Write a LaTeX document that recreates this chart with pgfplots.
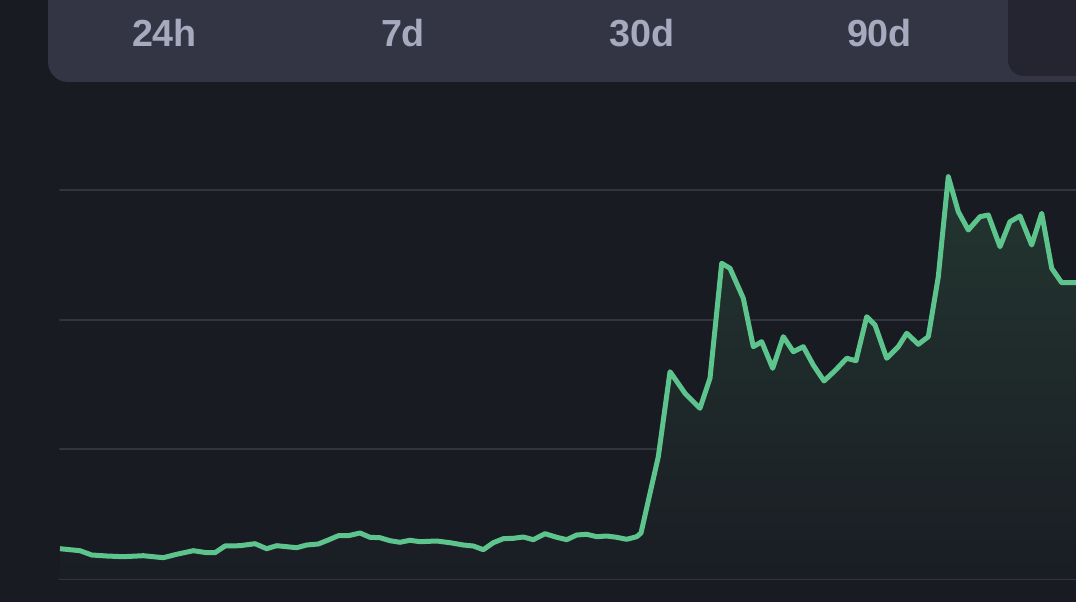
\documentclass[border=0pt]{standalone}
\usepackage{pgfplots}
\pgfplotsset{compat=1.18}
\usepackage{fontspec}
\setmainfont{Liberation Sans}
\definecolor{bg}{RGB}{25,27,35}
\definecolor{tabbar}{RGB}{51,52,68}
\definecolor{tabsel}{RGB}{36,37,48}
\definecolor{tabtxt}{RGB}{167,169,190}
\definecolor{gridc}{RGB}{50,52,64}
\definecolor{linec}{RGB}{93,196,142}
\definecolor{filltop}{RGB}{35,54,48}
\definecolor{fillbot}{RGB}{26,29,36}
\begin{document}
\begin{tikzpicture}[x=1pt,y=1pt]
\useasboundingbox (0,0) rectangle (1076,602);
\clip (0,0) rectangle (1076,602);
\fill[bg] (0,0) rectangle (1076,602);
\fill[tabbar, rounded corners=20pt] (48,520) rectangle (1120,640);
\fill[tabsel, rounded corners=16pt] (1008,526) rectangle (1120,640);
\begin{scope}[font=\fontsize{37.7}{40}\selectfont\bfseries, text=tabtxt]
\node[anchor=base] at (164.5,555) {24h};
\node[anchor=base] at (403,555) {7d};
\node[anchor=base] at (642,555) {30d};
\node[anchor=base] at (879.5,555) {90d};
\end{scope}
\begin{axis}[
  at={(60pt,23pt)}, anchor=south west,
  scale only axis, width=1016pt, height=449pt,
  xmin=60, xmax=1076, ymin=0, ymax=449,
  axis line style={draw=none},
  major tick style={draw=none},
  xtick=\empty,
  ytick={0,129.67,259.33,389},
  yticklabels={},
  ymajorgrids,
  grid style={gridc, line width=2pt, line cap=round},
  clip=false,
]
\addplot[draw=none, top color=filltop, bottom color=fillbot] coordinates {
(60,30.3)(80,28.3)(91.7,24)(106.7,23)(123.3,22.3)(143.3,23.3)(163.3,21.3)(176.7,24.7)(193.3,28.3)(206.7,26.3)(215,26.3)(225,33)(240,33.3)(255,35.3)(266.7,30.3)(276.7,33.3)(296.7,31.3)(306.7,34)(318.3,35)(328.3,39)(338.3,43.3)(348.3,43.3)(360,46)(370,41.7)(380,41.3)(390,38.3)(400,36.7)(410,38.7)(420,37.3)(436.7,38)(450,36.3)(463.3,34)(473.3,33)(483.3,29.3)(493.3,36.3)(503.3,40.3)(513.3,40.7)(523.3,42)(533.3,39.3)(545,45.3)(556.7,41.7)(566.7,39.3)(576.7,44)(586.7,44.7)(596.7,42.3)(606.7,43)(616.7,41.7)(626.7,39.7)(636.7,42.3)(641,46)(658.3,122.3)(670,207.3)(685,185.7)(700,170.7)(710,200.7)(721.7,315.7)(730,310.7)(743.3,280.7)(753.3,232.3)(761.7,237.3)(772.7,210.7)(783.3,242.3)(793.3,227.3)(803.3,232.3)(813.3,214)(824,198)(835,208.3)(846.7,220.7)(856,218.3)(866.7,262.3)(875,254)(886.7,220.7)(898.3,232.3)(906.7,245.7)(918.3,234.7)(928.3,242.3)(938.3,302.3)(948.3,402.3)(958.3,367.3)(968.3,349)(980,362.3)(988.3,364)(1000,332.3)(1010,357.3)(1020,363)(1031.7,334)(1041.7,365.7)(1051.7,310.7)(1061.7,296.3)(1076,296.3)
} \closedcycle;
\addplot[linec, line width=5pt, line join=round, line cap=butt, mark=none] coordinates {
(60,30.3)(80,28.3)(91.7,24)(106.7,23)(123.3,22.3)(143.3,23.3)(163.3,21.3)(176.7,24.7)(193.3,28.3)(206.7,26.3)(215,26.3)(225,33)(240,33.3)(255,35.3)(266.7,30.3)(276.7,33.3)(296.7,31.3)(306.7,34)(318.3,35)(328.3,39)(338.3,43.3)(348.3,43.3)(360,46)(370,41.7)(380,41.3)(390,38.3)(400,36.7)(410,38.7)(420,37.3)(436.7,38)(450,36.3)(463.3,34)(473.3,33)(483.3,29.3)(493.3,36.3)(503.3,40.3)(513.3,40.7)(523.3,42)(533.3,39.3)(545,45.3)(556.7,41.7)(566.7,39.3)(576.7,44)(586.7,44.7)(596.7,42.3)(606.7,43)(616.7,41.7)(626.7,39.7)(636.7,42.3)(641,46)(658.3,122.3)(670,207.3)(685,185.7)(700,170.7)(710,200.7)(721.7,315.7)(730,310.7)(743.3,280.7)(753.3,232.3)(761.7,237.3)(772.7,210.7)(783.3,242.3)(793.3,227.3)(803.3,232.3)(813.3,214)(824,198)(835,208.3)(846.7,220.7)(856,218.3)(866.7,262.3)(875,254)(886.7,220.7)(898.3,232.3)(906.7,245.7)(918.3,234.7)(928.3,242.3)(938.3,302.3)(948.3,402.3)(958.3,367.3)(968.3,349)(980,362.3)(988.3,364)(1000,332.3)(1010,357.3)(1020,363)(1031.7,334)(1041.7,365.7)(1051.7,310.7)(1061.7,296.3)(1076,296.3)
};
\end{axis}
\end{tikzpicture}
\end{document}
